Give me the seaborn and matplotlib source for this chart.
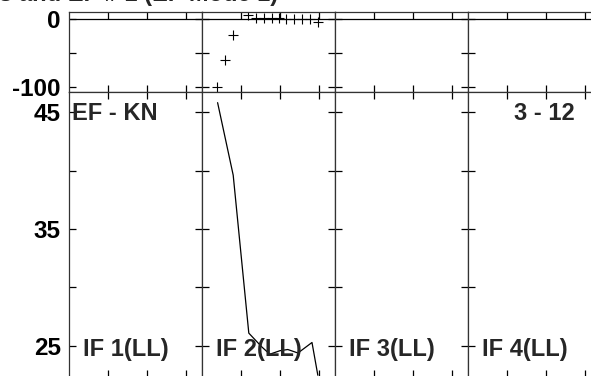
import matplotlib
matplotlib.use("Agg")
import matplotlib.pyplot as plt
import seaborn as sns
import pandas as pd

# data (only IF 2 panel has data)
panel_names = ["IF 1(LL)", "IF 2(LL)", "IF 3(LL)", "IF 4(LL)"]
top_x = [0.38, 0.59, 0.79, 1.18, 1.38, 1.59, 1.80, 1.97, 2.15, 2.36, 2.56, 2.77, 2.97]
top_y = [-100, -60, -24, 6, 2, 1.5, 1, 1, 0.5, 0.5, 0, -0.5, -4.5]
line_x = [0.40, 0.80, 1.20, 1.54, 1.74, 2.00, 2.20, 2.46, 2.82, 2.97]
line_y = [45.8, 39.6, 26.1, 24.9, 24.3, 24.6, 24.7, 24.4, 25.3, 22.5]
top_ticks = [0, -50, -100]
top_labels = ["0", "", "-100"]
bottom_ticks = [45, 40, 35, 30, 25]
bottom_labels = ["45", "", "35", "", "25"]
title = "s and EF # 1 (EF Mode 1)"
left_label = "EF - KN"
right_label = "3 - 12"

sns.set_style("ticks")
plt.rcParams["font.family"] = ["Liberation Sans", "DejaVu Sans"]
plt.rcParams["font.weight"] = "bold"

W, H = 591, 376
fig = plt.figure(figsize=(W / 100, H / 100), dpi=100)

x0, colw = 69, 133
top_px, mid_px, bot_px = 12, 92, 377
fs = 17


def frac_box(left, top, width, height):
    return [left / W, 1 - (top + height) / H, width / W, height / H]


top_df = pd.DataFrame({"x": top_x, "y": top_y})
line_df = pd.DataFrame({"x": line_x, "y": line_y})

for i, name in enumerate(panel_names):
    left = x0 + i * colw
    ax_t = fig.add_axes(frac_box(left, top_px, colw, mid_px - top_px))
    ax_b = fig.add_axes(frac_box(left, mid_px, colw, bot_px - mid_px))

    ax_t.axhline(0, color="black", lw=0.9)
    if i == 1:
        sns.scatterplot(data=top_df, x="x", y="y", marker="+", s=45,
                        color="black", linewidth=0.8, ax=ax_t)
        sns.lineplot(data=line_df, x="x", y="y", color="black", lw=0.9,
                     estimator=None, sort=False, ax=ax_b)

    ax_t.set_ylim(-107.4, 10.3)
    ax_b.set_ylim(22.35, 46.71)
    for ax in (ax_t, ax_b):
        ax.set_xlim(0, 3.41)
        ax.set_xticks([1, 2, 3])
        ax.set_xlabel("")
        ax.set_ylabel("")
        ax.tick_params(direction="in", length=5, width=0.9, top=True, right=True,
                       labelbottom=False, labelsize=17.5, pad=6, colors="black")
        for sp in ax.spines.values():
            sp.set_linewidth(0.9)
            sp.set_color("#333333")
    ax_t.set_yticks(top_ticks)
    ax_b.set_yticks(bottom_ticks)
    if i == 0:
        ax_t.set_yticklabels(top_labels, fontweight="bold")
        ax_b.set_yticklabels(bottom_labels, fontweight="bold")
    else:
        ax_t.tick_params(labelleft=False)
        ax_b.tick_params(labelleft=False)

    ax_b.text(14 / colw, 0.095, name, transform=ax_b.transAxes, fontsize=fs,
              fontweight="bold", ha="left", va="center")
    if i == 0:
        ax_b.text(3 / colw, 0.925, left_label, transform=ax_b.transAxes,
                  fontsize=fs, fontweight="bold", ha="left", va="center")
    if i == 3:
        ax_b.text(107 / colw, 0.925, right_label, transform=ax_b.transAxes,
                  fontsize=fs, fontweight="bold", ha="right", va="center")

# title sits mostly above the top edge, as in the reference
fig.text(278 / W, 1 - 0.5 / H, title, fontsize=fs, fontweight="bold",
         ha="right", va="baseline")

fig.savefig("out.png", dpi=100)
